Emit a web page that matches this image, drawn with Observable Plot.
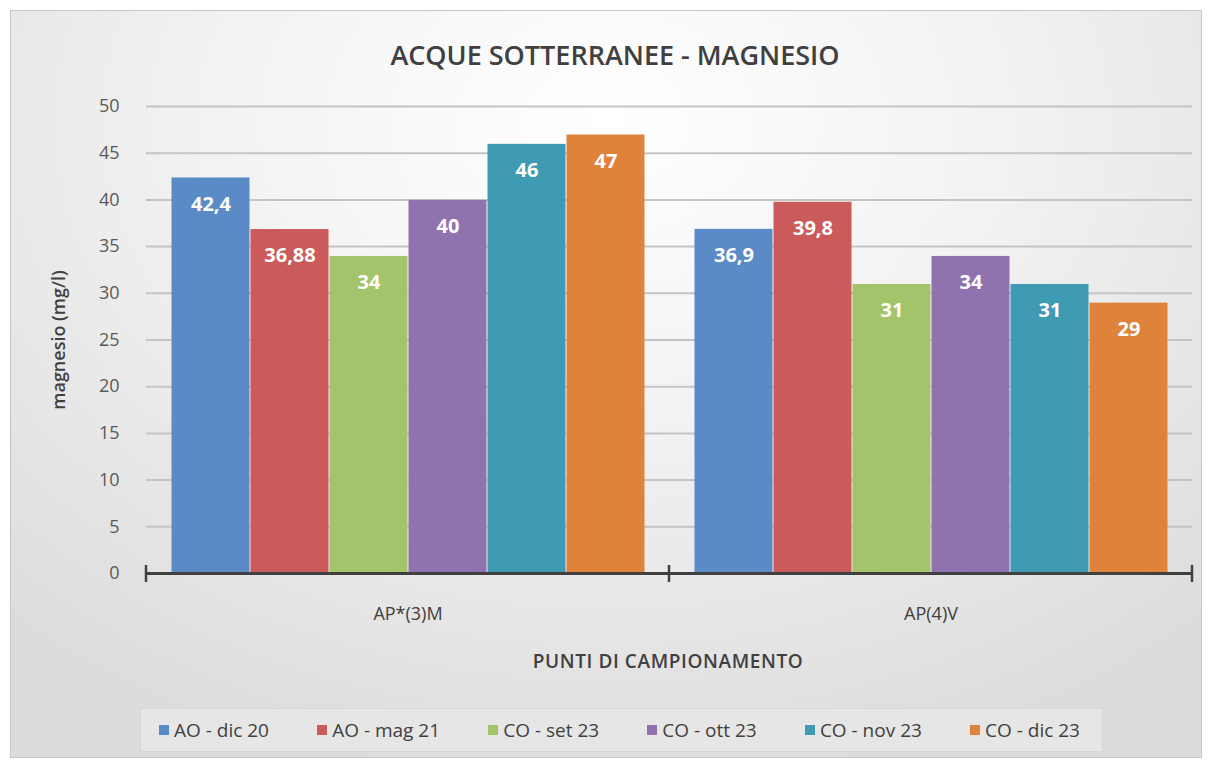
<!DOCTYPE html>
<html>
<head>
<meta charset="utf-8">
<script src="https://cdn.jsdelivr.net/npm/d3@7"></script>
<script src="https://cdn.jsdelivr.net/npm/@observablehq/plot@0.6"></script>
<style>
  html, body { margin: 0; padding: 0; background: #fff; font-family: "Open Sans", sans-serif; }
  #frame {
    position: absolute; left: 10px; top: 10px; width: 1190px; height: 746px;
    background: radial-gradient(ellipse 75% 90% at 50% 15%, #ffffff 0%, #f2f2f2 45%, #dcdcdc 100%);
    border: 1px solid #c8c8c8;
  }
  #title {
    position: absolute; left: 0; top: 36px; width: 1230px; text-align: center;
    font-size: 27px; font-weight: 600; color: #404040;
  }
  #chart { position: absolute; left: 0; top: 80px; width: 1210px; }
  #chart svg { max-width: none !important; }
  #ytitle {
    position: absolute; left: 58px; top: 340px; transform: translate(-50%, -50%) rotate(-90deg);
    white-space: nowrap; font-size: 18px; font-weight: 600; color: #404040;
  }
  #xtitle {
    position: absolute; left: 668px; top: 661px; transform: translate(-50%, -50%);
    white-space: nowrap; font-size: 19px; font-weight: 600; color: #404040; letter-spacing: 0.6px;
  }
  #legend {
    position: absolute; left: 140px; top: 708px; width: 963px; height: 44px;
    background: #e6e6e6; border: 1px solid #d6d6d6;
    display: flex; align-items: center; justify-content: space-between;
    font-size: 19px; color: #404040; box-sizing: border-box; padding: 0 22px 0 18px;
  }
  .sw { display: inline-block; width: 10px; height: 10px; margin-right: 5px; vertical-align: middle; position: relative; top: -2px; }
</style>
</head>
<body>
<div id="frame"></div>
<div id="title">ACQUE SOTTERRANEE - MAGNESIO</div>
<div id="chart"></div>
<div id="ytitle">magnesio (mg/l)</div>
<div id="xtitle">PUNTI DI CAMPIONAMENTO</div>
<div id="legend"></div>
<script>
const groups = ["AP*(3)M", "AP(4)V"];
const series = ["AO - dic 20", "AO - mag 21", "CO - set 23", "CO - ott 23", "CO - nov 23", "CO - dic 23"];
const colors = ["#5b8bc7", "#cb5b5a", "#a3c46a", "#9073ae", "#3f9ab3", "#e0833a"];
const valuesAP3M = [42.4, 36.88, 34, 40, 46, 47];
const valuesAP4V = [36.9, 39.8, 31, 34, 31, 29];
const yTicks = [0, 5, 10, 15, 20, 25, 30, 35, 40, 45, 50];

const data = [];
series.forEach((s, i) => data.push({group: groups[0], series: s, value: valuesAP3M[i]}));
series.forEach((s, i) => data.push({group: groups[1], series: s, value: valuesAP4V[i]}));

const fmt = v => String(v).replace(".", ",");

const plot = Plot.plot({
  width: 1210,
  height: 600,
  marginTop: 26,
  marginBottom: 107,
  marginLeft: 145,
  marginRight: 18,
  style: { background: "transparent", fontFamily: "'Open Sans', sans-serif", maxWidth: "none" },
  fx: { domain: groups, padding: 0, label: null },
  x: { domain: series, paddingInner: 0, paddingOuter: 0.3, axis: null },
  y: { domain: [0, 50], ticks: yTicks, label: null },
  color: { domain: series, range: colors },
  marks: [
    Plot.gridY(yTicks, { stroke: "#c4c4c4", strokeOpacity: 1, strokeWidth: 2 }),
    Plot.axisY(yTicks, { tickSize: 0, tickPadding: 27, fontSize: 18, fill: "#595959", label: null }),
    Plot.axisFx({ anchor: "bottom", tickSize: 0, tickPadding: 34, fontSize: 18, fill: "#404040", label: null }),
    Plot.barY(data, { fx: "group", x: "series", y: "value", fill: "series", inset: 0.5 }),
    Plot.text(data, { fx: "group", x: "series", y: "value", text: d => fmt(d.value), dy: 27, fill: "white", fontSize: 20, fontWeight: "bold" }),
    Plot.ruleY([0], { stroke: "#404040", strokeWidth: 3 })
  ]
});

// Category boundary ticks on the x axis, positioned from Plot's own scales
const fx = plot.scale("fx"), y = plot.scale("y");
const bw = fx.bandwidth;
const y0 = y.apply(0);
const edges = [fx.apply(groups[0]), fx.apply(groups[1]), fx.apply(groups[1]) + bw];
d3.select(plot).append("g").selectAll("line").data(edges).join("line")
  .attr("x1", d => d).attr("x2", d => d)
  .attr("y1", y0 - 8).attr("y2", y0 + 9)
  .attr("stroke", "#404040").attr("stroke-width", 2.5);

document.getElementById("chart").appendChild(plot);

const legend = document.getElementById("legend");
series.forEach((s, i) => {
  const item = document.createElement("span");
  item.innerHTML = `<span class="sw" style="background:${colors[i]}"></span>${s}`;
  legend.appendChild(item);
});
</script>
</body>
</html>
